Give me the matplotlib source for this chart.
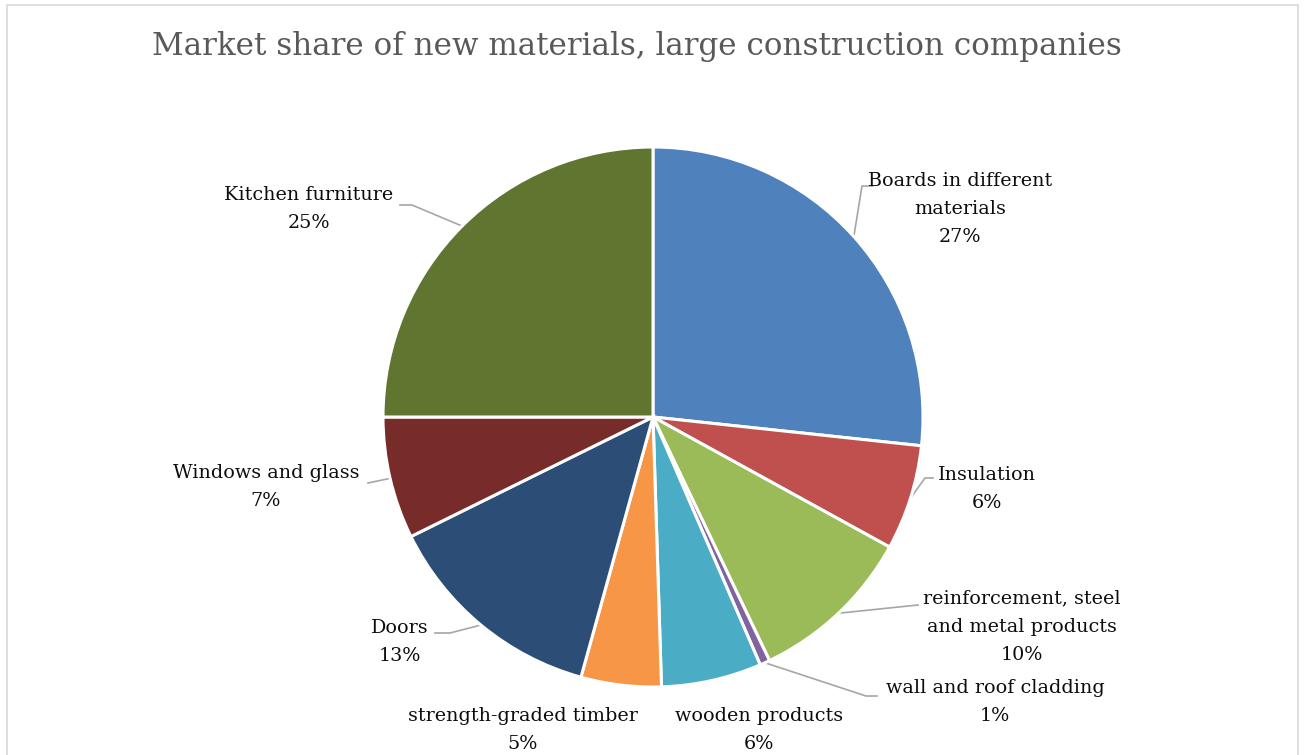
import numpy as np
import matplotlib
matplotlib.use("Agg")
import matplotlib.pyplot as plt
from matplotlib.patches import Rectangle

# ---- data ----
categories = ["Boards in different\nmaterials", "Insulation", "reinforcement, steel\nand metal products",
              "wall and roof cladding", "wooden products", "strength-graded timber",
              "Doors", "Windows and glass", "Kitchen furniture"]
shares = [26.7, 6.3, 9.9, 0.6, 6.0, 4.8, 13.4, 7.3, 25.0]
colors = ["#4F81BD", "#C0504D", "#9BBB59", "#8064A2", "#4BACC6", "#F79646",
          "#2C4D75", "#772C2A", "#5F7530"]
title = "Market share of new materials, large construction companies"

# ---- layout (pixel coordinates, y measured from top) ----
W, H = 1306, 755
CX, CY, R = 653, 417, 270
label_pos = [(960, 209), (987, 489), (1022, 627), (995, 702), (759, 730),
             (523, 730), (400, 642), (266, 487), (309, 209)]
# leader line start (near label) and elbow points; None = no leader
leaders = [[(873, 186), (862, 186)], [(933, 478), (925, 478)], [(918, 605)],
           [(877, 696), (866, 696)], None, None,
           [(435, 633), (450, 633)], [(368, 483)], [(400, 205), (412, 205)]]

fig = plt.figure(figsize=(W / 100, H / 100), dpi=100)
ax = fig.add_axes([0, 0, 1, 1])

def Y(y):
    return H - y

wedges, _ = ax.pie(shares, colors=colors, startangle=90, counterclock=False,
                   center=(CX, Y(CY)), radius=R,
                   wedgeprops=dict(edgecolor="white", linewidth=2.2))
ax.set_xlim(0, W)
ax.set_ylim(0, H)
ax.set_aspect("equal")
ax.axis("off")

font = "DejaVu Serif"
for w, cat, val, pos, ld in zip(wedges, categories, shares, label_pos, leaders):
    txt = f"{cat}\n{int(val + 0.5)}%"
    ax.text(pos[0], Y(pos[1]), txt, ha="center", va="center", fontsize=13.8,
            family=font, color="#0d0d0d", linespacing=1.75)
    if ld is not None:
        ang = np.deg2rad((w.theta1 + w.theta2) / 2)
        ex, ey = CX + R * np.cos(ang), Y(CY) + R * np.sin(ang)
        xs = [p[0] for p in ld] + [ex]
        ys = [Y(p[1]) for p in ld] + [ey]
        ax.plot(xs, ys, color="#a6a6a6", lw=1.2, zorder=0.5)

ax.text(637, Y(47), title, ha="center", va="center", fontsize=22.3,
        family=font, color="#595959")

# chart area border
ax.add_patch(Rectangle((7, -10), 1291, Y(5) + 10, fill=False,
                       edgecolor="#d9d9d9", lw=1.2, clip_on=False))

fig.savefig("out.png", dpi=100)
